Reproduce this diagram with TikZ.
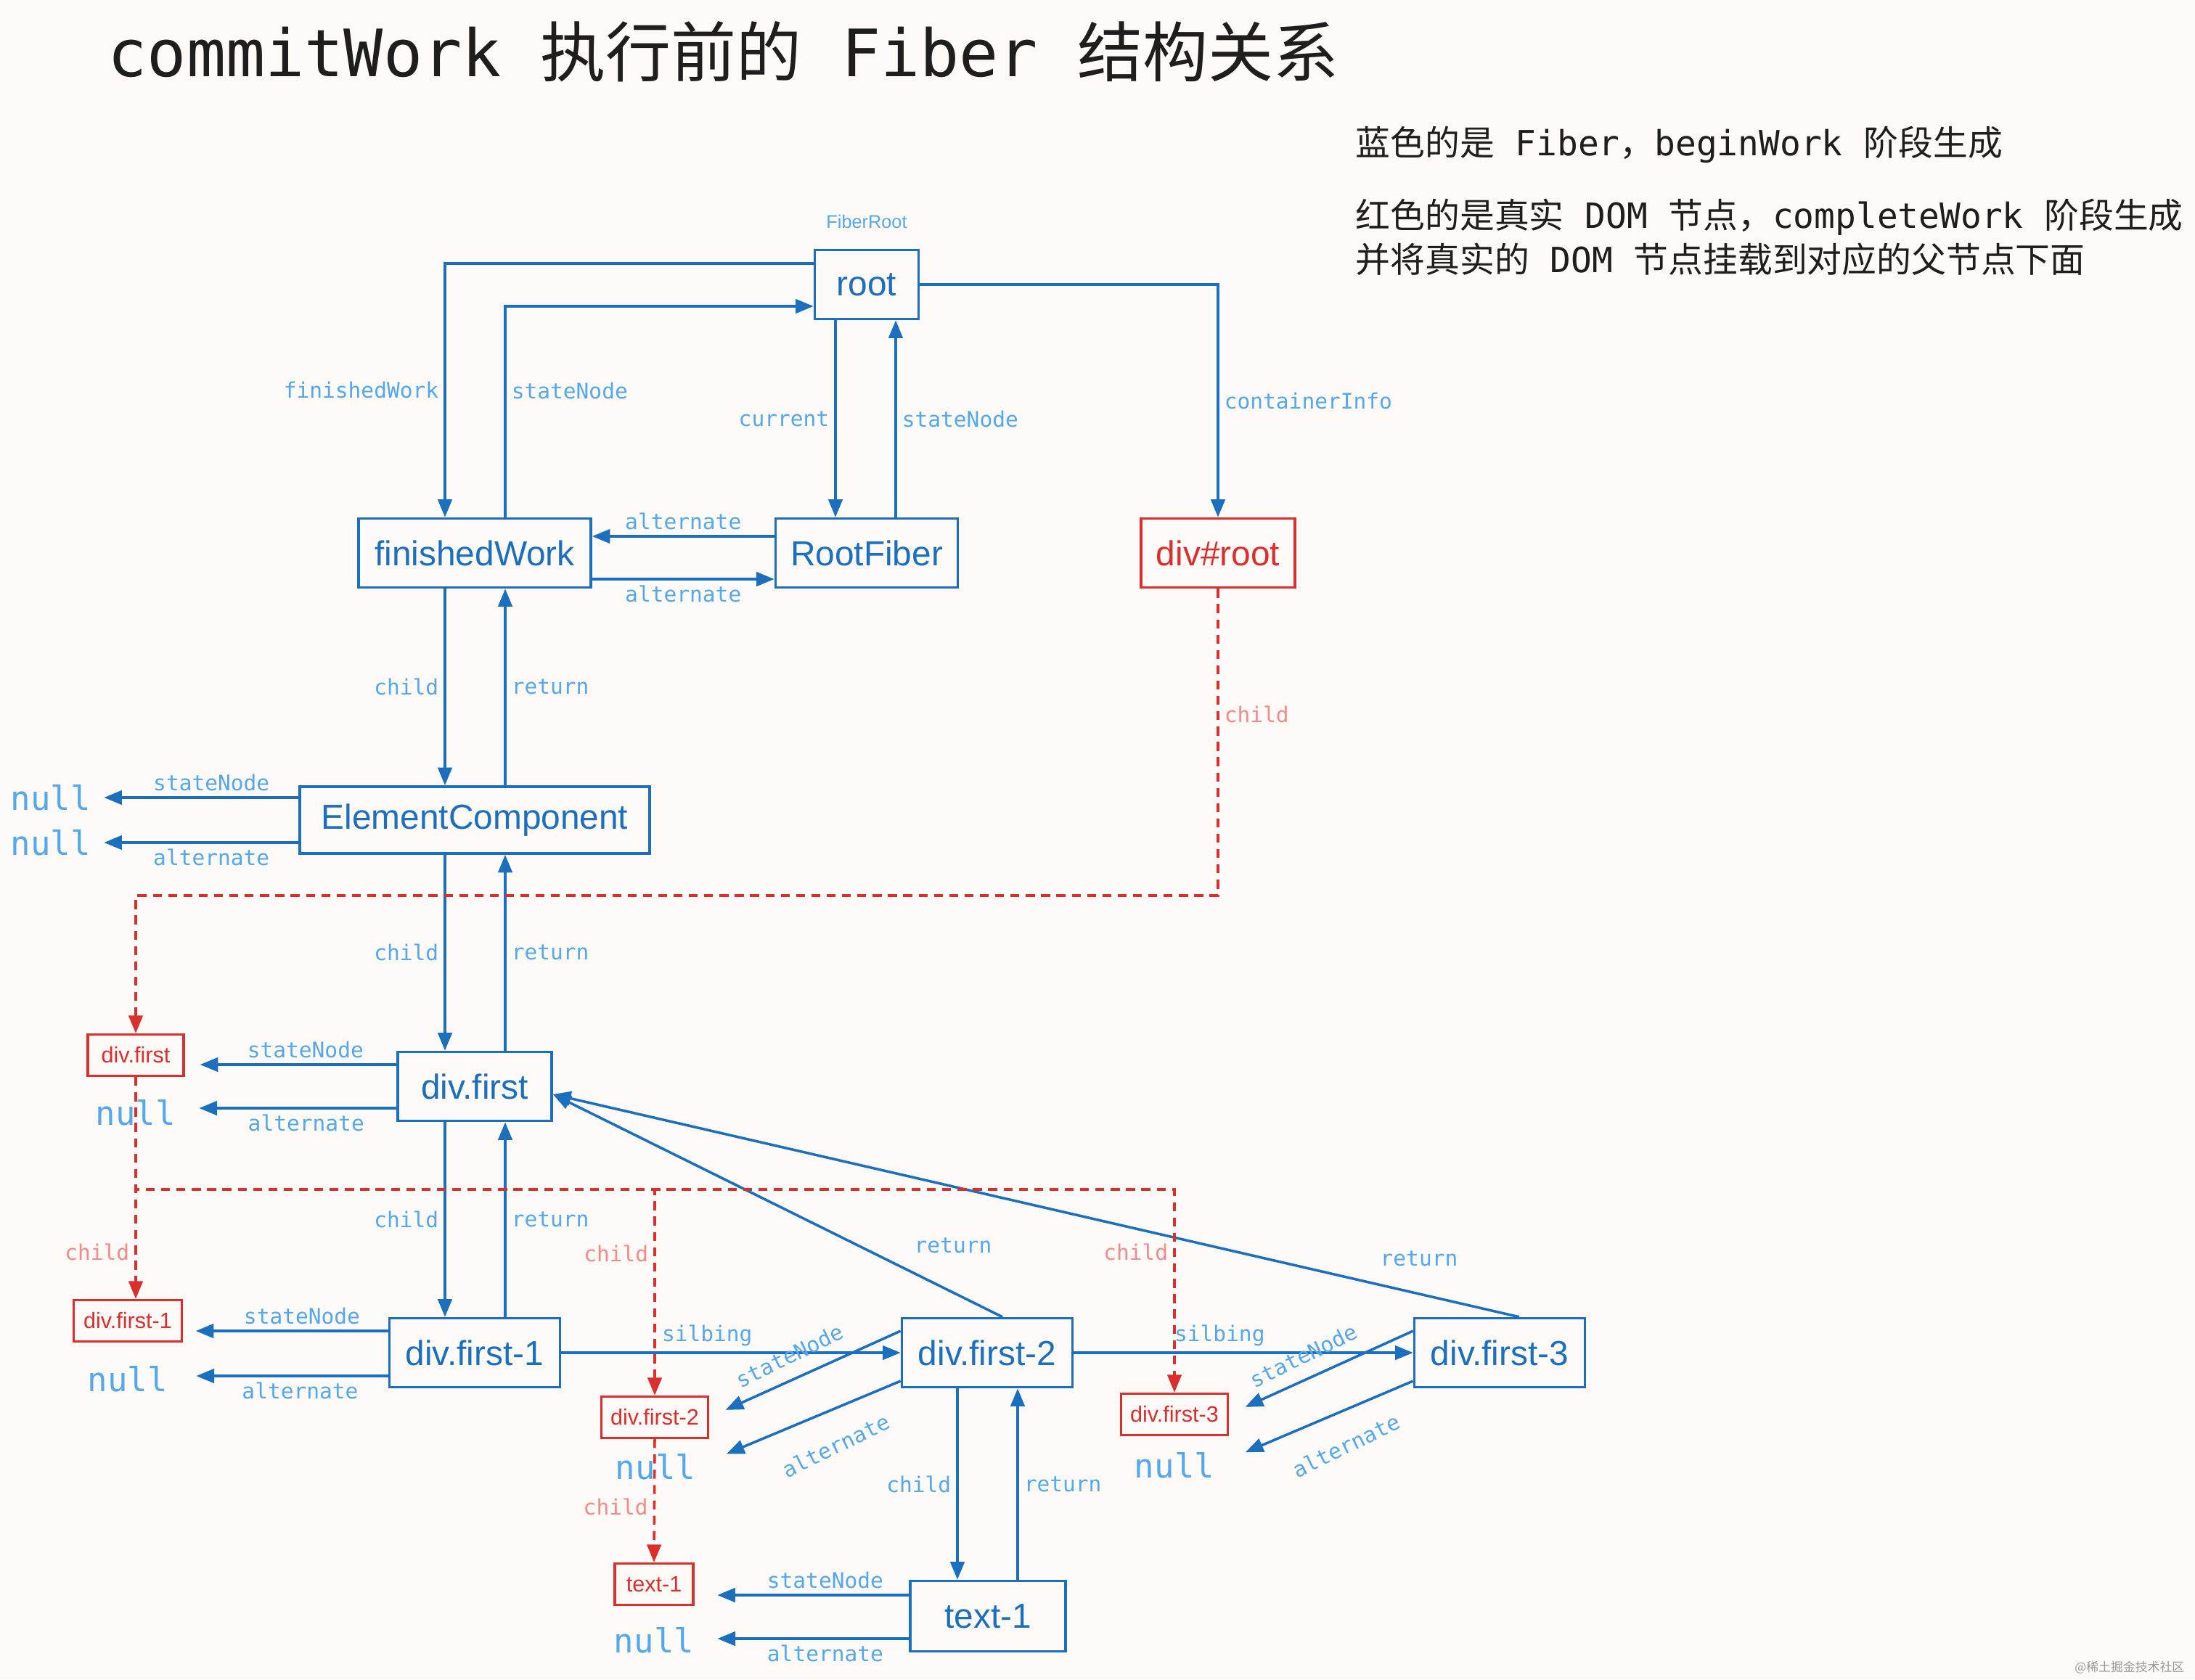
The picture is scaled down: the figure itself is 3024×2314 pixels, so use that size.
\documentclass[tikz,border=0pt]{standalone}
\usepackage{fontspec}
\setmainfont{Liberation Sans}
\setmonofont{DejaVu Sans Mono}
\newfontfamily\cjk{Noto Sans CJK SC}
\usepackage{xcolor}
\usetikzlibrary{arrows.meta}

\definecolor{fiberblue}{HTML}{1B6FBD}
\definecolor{labelblue}{HTML}{55A8EC}
\definecolor{domred}{HTML}{D9302E}
\definecolor{labelred}{HTML}{F28B8B}
\definecolor{paper}{HTML}{FCF9F6}
\definecolor{ink}{HTML}{1E1E1E}

\tikzset{
	fiber/.style={draw=fiberblue, line width=1pt, text=fiberblue, minimum height=0.95cm, font=\fontsize{13.6}{16}\selectfont},
	dom/.style={draw=domred, line width=0.9pt, text=domred, minimum height=0.57cm, font=\fontsize{8.7}{10}\selectfont},
	lbl/.style={text=labelblue, font=\ttfamily\fontsize{8.4}{10}\selectfont, inner sep=2pt},
	rlbl/.style={lbl, text=labelred},
	nul/.style={text=labelblue, font=\ttfamily\fontsize{13}{15}\selectfont, inner sep=0pt},
	link/.style={draw=fiberblue, line width=1pt, -{Triangle[length=7pt,width=5.5pt]}},
	domlink/.style={draw=domred, line width=1pt, dash pattern=on 3.5pt off 2.5pt, -{Triangle[length=7pt,width=5.5pt]}},
	legend/.style={anchor=west, text=ink, inner sep=0pt, font=\ttfamily\fontsize{13.6}{16}\selectfont}
}

\begin{document}
\begin{tikzpicture}[x=0.01cm, y=-0.01cm]
	\fill [paper] (0,0) rectangle (3024,2314);
	\useasboundingbox (0,0) rectangle (3024,2314);

	\node [anchor=west, text=ink, inner sep=0pt, font=\ttfamily\fontsize{25.6}{30}\selectfont] (title) at (148,71) {commitWork\ {\cjk 执行前的}\ Fiber\ {\cjk 结构关系}};
	\node [legend] (legend1) at (1867,199) {{\cjk 蓝色的是}\ Fiber{\cjk ，}beginWork\ {\cjk 阶段生成}};
	\node [legend] (legend2) at (1867,299) {{\cjk 红色的是真实}\ DOM\ {\cjk 节点，}completeWork\ {\cjk 阶段生成}};
	\node [legend] (legend3) at (1867,357) {{\cjk 并将真实的}\ DOM\ {\cjk 节点挂载到对应的父节点下面}};

	\node [fiber, minimum width=1.43cm] (root) at (1194,392) {root};
	\node [lbl, font=\rmfamily\fontsize{7.2}{8}\selectfont] (rootcap) at (1194,305) {FiberRoot};
	\node [fiber, minimum width=3.2cm] (fw) at (654,762) {finishedWork};
	\node [fiber, minimum width=2.51cm] (rf) at (1194,762) {RootFiber};
	\node [fiber, draw=domred, text=domred, minimum width=2.12cm] (divroot) at (1678,762) {div\#root};
	\node [fiber, minimum width=4.82cm, minimum height=0.92cm] (ec) at (654,1130) {ElementComponent};
	\node [fiber, minimum width=2.12cm] (df) at (654,1497) {div.first};
	\node [fiber, minimum width=2.35cm] (df1) at (654,1864) {div.first-1};
	\node [fiber, minimum width=2.35cm] (df2) at (1360,1864) {div.first-2};
	\node [fiber, minimum width=2.35cm] (df3) at (2066,1864) {div.first-3};
	\node [fiber, minimum width=2.14cm, minimum height=0.97cm] (t1) at (1361,2227) {text-1};

	\node [dom, minimum width=1.32cm] (rdf) at (187,1454) {div.first};
	\node [dom, minimum width=1.49cm] (rdf1) at (176,1820) {div.first-1};
	\node [dom, minimum width=1.47cm] (rdf2) at (902,1953) {div.first-2};
	\node [dom, minimum width=1.47cm] (rdf3) at (1618,1949) {div.first-3};
	\node [dom, minimum width=1.08cm] (rt1) at (901,2183) {text-1};

	\node [nul] (ecnull1) at (70,1099) {null};
	\node [nul] (ecnull2) at (70,1161) {null};
	\node [nul] (dfnull) at (187,1533) {null};
	\node [nul] (df1null) at (176,1900) {null};
	\node [nul] (df2null) at (903,2021) {null};
	\node [nul] (df3null) at (1618,2019) {null};
	\node [nul] (t1null) at (901,2260) {null};

	\draw [link] (root.west |- 0,363) -| node [lbl, pos=0.75, left] {finishedWork} (fw.north -| 613,0);
	\draw [link] (fw.north -| 696,0) |- node [lbl, pos=0.3, right] {stateNode} (root.west |- 0,422);
	\draw [link] (root.south -| 1151,0) -- node [lbl, left] {current} (rf.north -| 1151,0);
	\draw [link] (rf.north -| 1234,0) -- node [lbl, right] {stateNode} (root.south -| 1234,0);
	\draw [link] (rf.west |- 0,739) -- node [lbl, above] {alternate} (fw.east |- 0,739);
	\draw [link] (fw.east |- 0,798) -- node [lbl, below] {alternate} (rf.west |- 0,798);
	\draw [link] (root.east) -| node [lbl, pos=0.75, right] {containerInfo} (divroot.north);

	\draw [link] (fw.south -| 613,0) -- node [lbl, left] {child} (ec.north -| 613,0);
	\draw [link] (ec.north -| 696,0) -- node [lbl, right] {return} (fw.south -| 696,0);
	\draw [link, shorten >=5pt] (ec.west |- 0,1099) -- node [lbl, above, pos=0.42] {stateNode} (ecnull1.east);
	\draw [link, shorten >=5pt] (ec.west |- 0,1161) -- node [lbl, below, pos=0.42] {alternate} (ecnull2.east);

	\draw [link] (ec.south -| 613,0) -- node [lbl, left] {child} (df.north -| 613,0);
	\draw [link] (df.north -| 696,0) -- node [lbl, right] {return} (ec.south -| 696,0);
	\draw [link, shorten >=6pt] (df.west |- 0,1467) -- node [lbl, above, pos=0.43] {stateNode} (rdf.east |- 0,1467);
	\draw [link, shorten >=9pt] (df.west |- 0,1527) -- node [lbl, below, pos=0.41] {alternate} (dfnull.east |- 0,1527);

	\draw [link] (df.south -| 613,0) -- node [lbl, left] {child} (df1.north -| 613,0);
	\draw [link] (df1.north -| 696,0) -- node [lbl, right] {return} (df.south -| 696,0);
	\draw [link, shorten >=5pt] (df1.west |- 0,1834) -- node [lbl, above, pos=0.42] {stateNode} (rdf1.east |- 0,1834);
	\draw [link, shorten >=11pt] (df1.west |- 0,1896) -- node [lbl, below, pos=0.4] {alternate} (df1null.east |- 0,1896);

	\draw [link] (df1.east) -- node [lbl, above, pos=0.43] {silbing} (df2.west);
	\draw [link] (df2.east) -- node [lbl, above, pos=0.43] {silbing} (df3.west);
	\draw [link] (df2.north -| 1381,0) -- (df.east |- 0,1508);
	\draw [link] (df3.north -| 2093,0) -- (df.east |- 0,1508);
	\node [lbl] (ret2) at (1313,1716) {return};
	\node [lbl] (ret3) at (1955,1734) {return};

	\draw [link, shorten >=7pt] (df2.west |- 0,1834) -- (rdf2.east);
	\draw [link, shorten >=13pt] (df2.west |- 0,1903) -- (df2null.east);
	\node [lbl, rotate=26] (sn2) at (1088,1868) {stateNode};
	\node [lbl, rotate=26] (alt2) at (1152,1992) {alternate};
	\draw [link, shorten >=7pt] (df3.west |- 0,1834) -- (rdf3.east);
	\draw [link, shorten >=13pt] (df3.west |- 0,1903) -- (df3null.east);
	\node [lbl, rotate=26] (sn3) at (1796,1868) {stateNode};
	\node [lbl, rotate=26] (alt3) at (1855,1992) {alternate};

	\draw [link] (df2.south -| 1319,0) -- node [lbl, left] {child} (t1.north -| 1319,0);
	\draw [link] (t1.north -| 1402,0) -- node [lbl, right] {return} (df2.south -| 1402,0);
	\draw [link, shorten >=9pt] (t1.west |- 0,2198) -- node [lbl, above, pos=0.39] {stateNode} (rt1.east |- 0,2198);
	\draw [link, shorten >=9pt] (t1.west |- 0,2258) -- node [lbl, below, pos=0.39] {alternate} (t1null.east |- 0,2258);

	\draw [domlink] (divroot.south) -- node [rlbl, right, pos=0.41] {child} (divroot.south |- 0,1234) -| (rdf.north);
	\draw [domlink] (rdf.south) -- node [rlbl, left, pos=0.79] {child} (rdf.south |- rdf1.north);
	\draw [domlink] (rdf.south) |- (rdf2.north |- 0,1639) -- node [rlbl, left, pos=0.31] {child} (rdf2.north);
	\draw [domlink] (rdf.south) |- (rdf3.north |- 0,1639) -- node [rlbl, left, pos=0.31] {child} (rdf3.north);
	\draw [domlink] (rdf2.south) -- node [rlbl, left, pos=0.55] {child} (rt1.north);

	\node [anchor=east, text=black!40, inner sep=0pt, font=\cjk\fontsize{4.8}{5}\selectfont] (mark) at (3010,2298) {@稀土掘金技术社区};
\end{tikzpicture}
\end{document}
